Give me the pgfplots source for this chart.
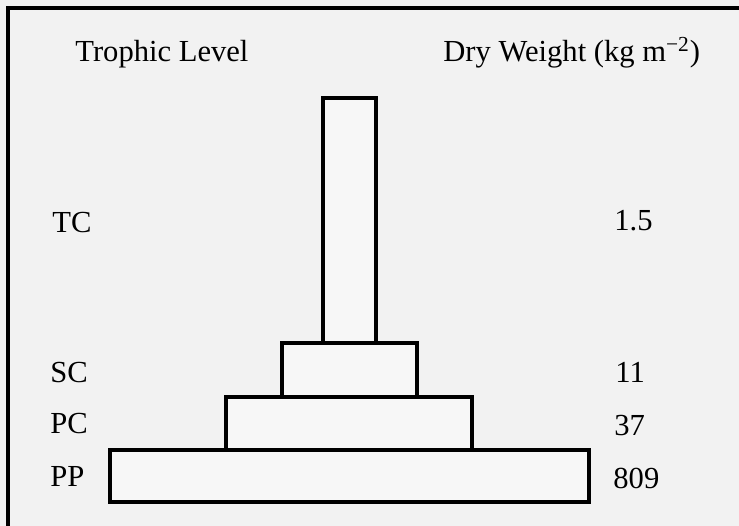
\documentclass[border=0pt]{standalone}
\usepackage{pgfplots}
\pgfplotsset{compat=1.18}
\usepackage{fontspec}
\setmainfont{Liberation Serif}
\tikzset{lab/.style={font=\fontsize{15.3bp}{18bp}\selectfont, inner sep=0pt, anchor=base west}}
\begin{document}
\begin{tikzpicture}
\begin{axis}[
  scale only axis, width=369.5bp, height=263bp,
  xmin=0, xmax=739, ymin=0, ymax=526, y dir=reverse,
  hide axis, clip=true,
]
% background
\addplot[fill=black!5, draw=none] coordinates {(0,0) (739,0) (739,526) (0,526)} -- cycle;
% outer frame
\addplot[draw=black, line width=1.6bp] coordinates {(8,8) (760,8) (760,540) (8,540)} -- cycle;
% pyramid bars (left, right, top, bottom in picture units)
\addplot[draw=black, fill=black!3, line width=1.7bp] coordinates {(110,450) (589,450) (589,502) (110,502)} -- cycle; % PP
\addplot[draw=black, fill=black!3, line width=1.7bp] coordinates {(226,397) (472,397) (472,450) (226,450)} -- cycle; % PC
\addplot[draw=black, fill=black!3, line width=1.7bp] coordinates {(282,343) (417,343) (417,397) (282,397)} -- cycle; % SC
\addplot[draw=black, fill=black!3, line width=1.7bp] coordinates {(323,98) (376,98) (376,343) (323,343)} -- cycle; % TC
% headers
\node[lab] at (axis cs:75,62) {Trophic Level};
\node[lab] at (axis cs:443,62) {Dry Weight (kg m\textsuperscript{\char"2212 2})};
% level labels
\node[lab] at (axis cs:52,232) {TC};
\node[lab] at (axis cs:50,382) {SC};
\node[lab] at (axis cs:50,433) {PC};
\node[lab] at (axis cs:50,486) {PP};
% values
\node[lab] at (axis cs:614,230) {1.5};
\node[lab] at (axis cs:615,382) {11};
\node[lab] at (axis cs:614,435) {37};
\node[lab] at (axis cs:613,488) {809};
\end{axis}
\end{tikzpicture}
\end{document}
